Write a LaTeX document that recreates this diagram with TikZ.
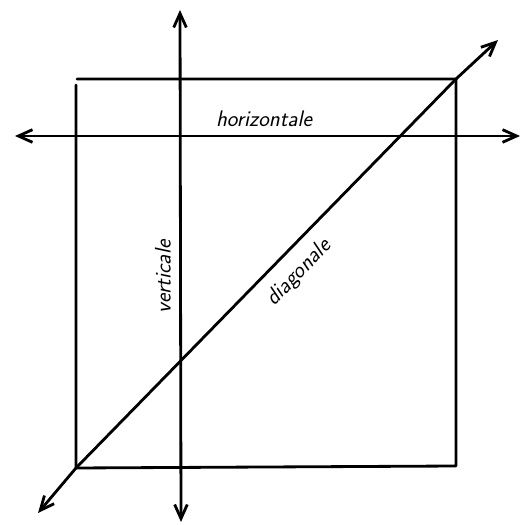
\documentclass[tikz,border=0pt]{standalone}
\usepackage{tikz}
\usetikzlibrary{arrows.meta}
\tikzset{every node/.append style={font=\fontsize{16}{18}\selectfont\sffamily\itshape}}

\begin{document}
\begin{tikzpicture}[x=0.025cm, y=-0.025cm, >={Straight Barb[length=10pt,width=9pt]}, line width=2pt, line cap=round, line join=round]
    \useasboundingbox (0,0) rectangle (528,525);
    % square
    \coordinate (sw) at (76,468);
    \coordinate (se) at (456,466);
    \coordinate (ne) at (456,79);
    \coordinate (nw) at (77,79);
    \draw (nw) -- (ne) -- (se) -- (sw) -- (76,85);
    % the three lines
    \coordinate (hl) at (15,136);
    \coordinate (hr) at (520,136);
    \coordinate (vt) at (180,10);
    \coordinate (vb) at (181,522);
    \coordinate (dl) at (38,513);
    \coordinate (dr) at (498,40);
    \draw[<->] (hl) -- (hr);
    \draw[<->] (vb) -- (vt);
    \draw[<->] (dl) -- (sw) -- (ne) -- (dr);
    % labels
    \node (hlab) at (264,119) {horizontale};
    \node[rotate=90] (vlab) at (163,277) {verticale};
    \node[rotate=46] (dlab) at (299,273) {diagonale};
\end{tikzpicture}
\end{document}
